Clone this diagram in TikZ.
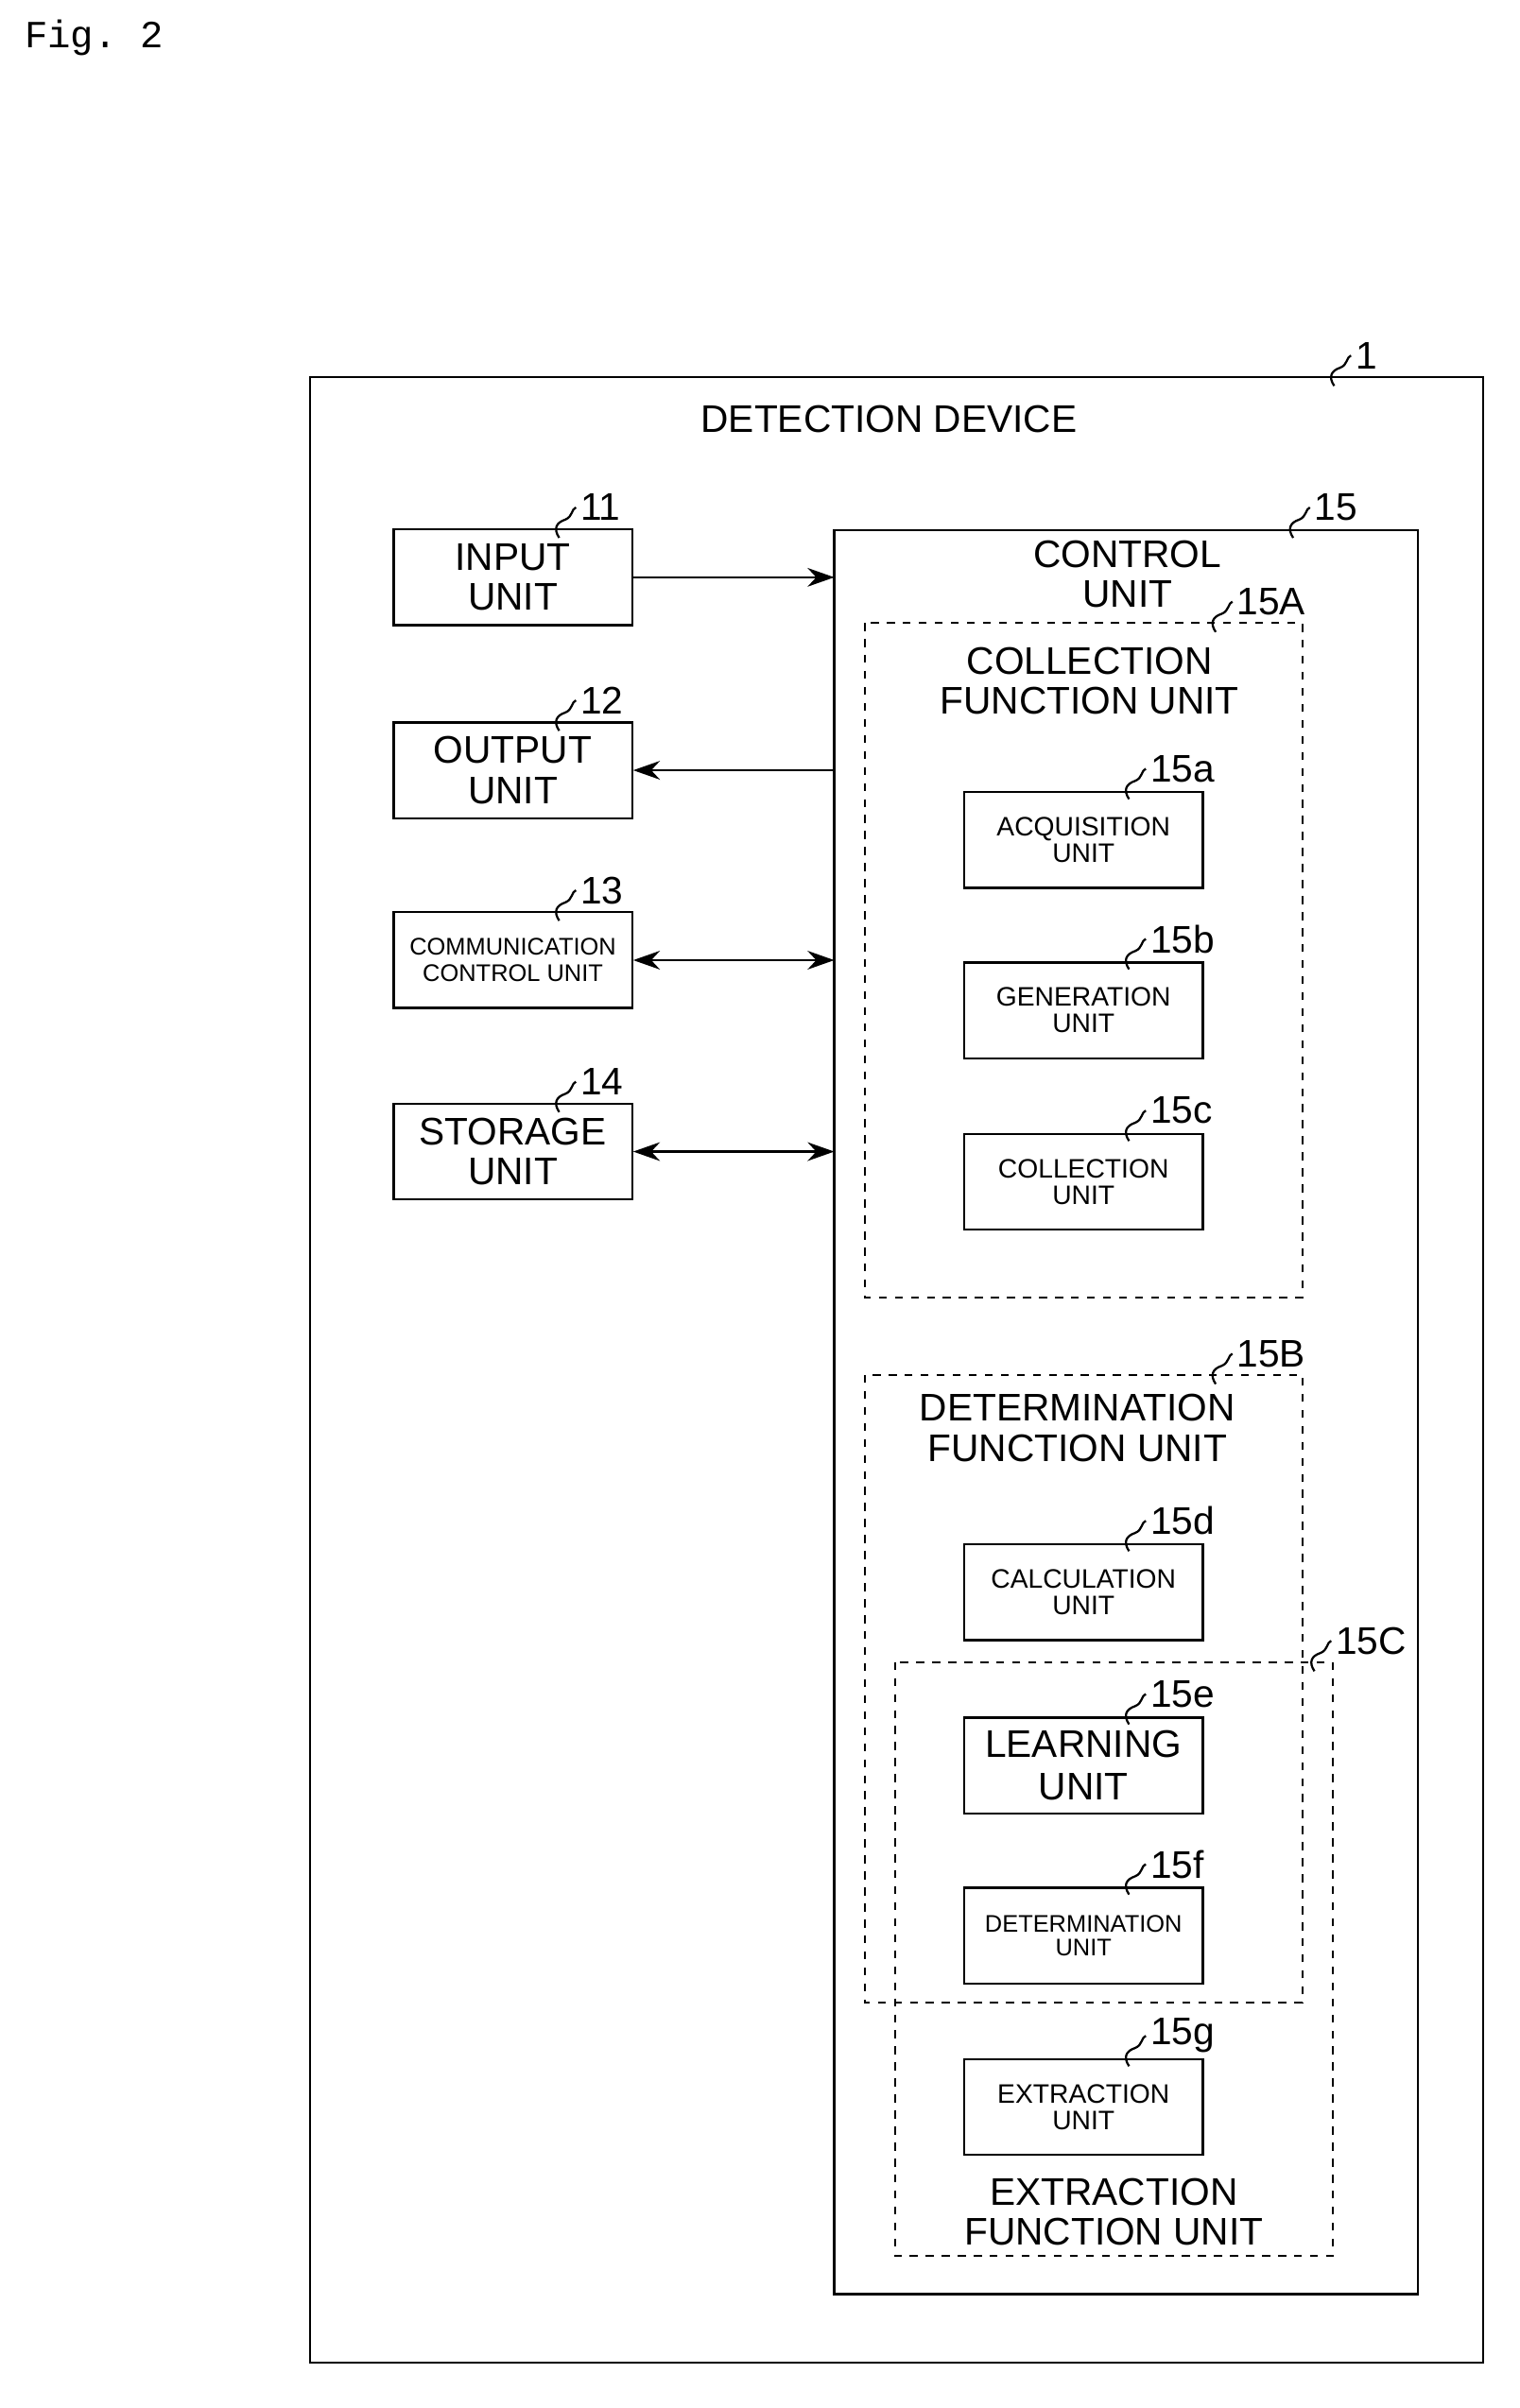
\documentclass[tikz,border=0pt]{standalone}
\usepackage{fontspec}
\setmainfont{Liberation Sans}
\setmonofont{Liberation Mono}
\usetikzlibrary{arrows.meta}
\tikzset{
  unit/.style={rectangle,draw,thick,align=center,inner sep=0pt,minimum width=3.14cm,minimum height=1.26cm},
  grp/.style={draw,dashed,thick},
  tag/.style={font=\Large,anchor=west,inner sep=1pt},
  conn/.style={thick,-{Stealth[length=10pt,width=7pt]}},
  biconn/.style={thick,{Stealth[length=10pt,width=7pt]}-{Stealth[length=10pt,width=7pt]}}
}
% squiggle leader plus reference number
\newcommand{\reftag}[3]{%
  \draw[thick] (#1-12,#2+14) .. controls (#1-16,#2+8) and (#1-14,#2+4) .. (#1-8,#2+2)
    .. controls (#1-3,#2) and (#1-4,#2-5) .. (#1-1,#2-6);
  \node[tag] (t#3) at (#1,#2-6) {#3};}
\begin{document}
\begin{tikzpicture}[x=0.02cm,y=-0.02cm]
  \useasboundingbox (0,0) rectangle (1000,1585);
  \node[font=\ttfamily\Large,anchor=west] (fig) at (10,25) {Fig. 2};
  % device
  \draw[thick] (204,248) rectangle (976,1555);
  \reftag{890}{240}{1}
  \node[font=\Large] (dev) at (585,276) {DETECTION DEVICE};
  % left units
  \node[unit,font=\Large] (in) at (337.5,380) {INPUT\\[-3pt]UNIT};
  \reftag{380}{340}{11}
  \node[unit,font=\Large] (out) at (337.5,507) {OUTPUT\\[-3pt]UNIT};
  \reftag{380}{467}{12}
  \node[unit,font=\small] (com) at (337.5,632) {COMMUNICATION\\[-1pt]CONTROL UNIT};
  \reftag{380}{592}{13}
  \node[unit,font=\Large] (st) at (337.5,758) {STORAGE\\[-3pt]UNIT};
  \reftag{380}{718}{14}
  % control unit
  \draw[thick] (549,349) rectangle (933,1510);
  \reftag{863}{340}{15}
  \node[font=\Large,align=center,inner sep=0] (ctl) at (742,378) {CONTROL\\[-3pt]UNIT};
  \coordinate (c1) at (549,380); \coordinate (c2) at (549,507);
  \coordinate (c3) at (549,632); \coordinate (c4) at (549,758);
  \draw[conn] (in) -- (c1);
  \draw[conn] (c2) -- (out);
  \draw[biconn] (com) -- (c3);
  \draw[biconn] (st) -- (c4);
  % function groups
  \draw[grp] (569,410) rectangle (857,854);
  \reftag{812}{402}{15A}
  \node[font=\Large,align=center,inner sep=0] (colF) at (717,448) {COLLECTION\\[-3pt]FUNCTION UNIT};
  \draw[grp] (569,905) rectangle (857,1318);
  \reftag{812}{897}{15B}
  \node[font=\Large,align=center,inner sep=0] (detF) at (709,940) {DETERMINATION\\[-3pt]FUNCTION UNIT};
  \draw[grp] (589,1094) rectangle (877,1485);
  \reftag{877}{1086}{15C}
  \node[font=\Large,align=center,inner sep=0] (extF) at (733,1456) {EXTRACTION\\[-3pt]FUNCTION UNIT};
  % inner units
  \foreach \y/\t/\r/\f in {521/ACQUISITION/15a/\normalsize, 633/GENERATION/15b/\normalsize,
      746/COLLECTION/15c/\normalsize, 1016/CALCULATION/15d/\normalsize,
      1130/LEARNING/15e/\Large, 1242/DETERMINATION/15f/\small, 1355/EXTRACTION/15g/\normalsize}{
    \node[unit,fill=white,font=\f] (u\r) at (713,\y+32) {\t\\[-2pt]UNIT};
    \reftag{755}{\y-9}{\r}
  }
\end{tikzpicture}
\end{document}
